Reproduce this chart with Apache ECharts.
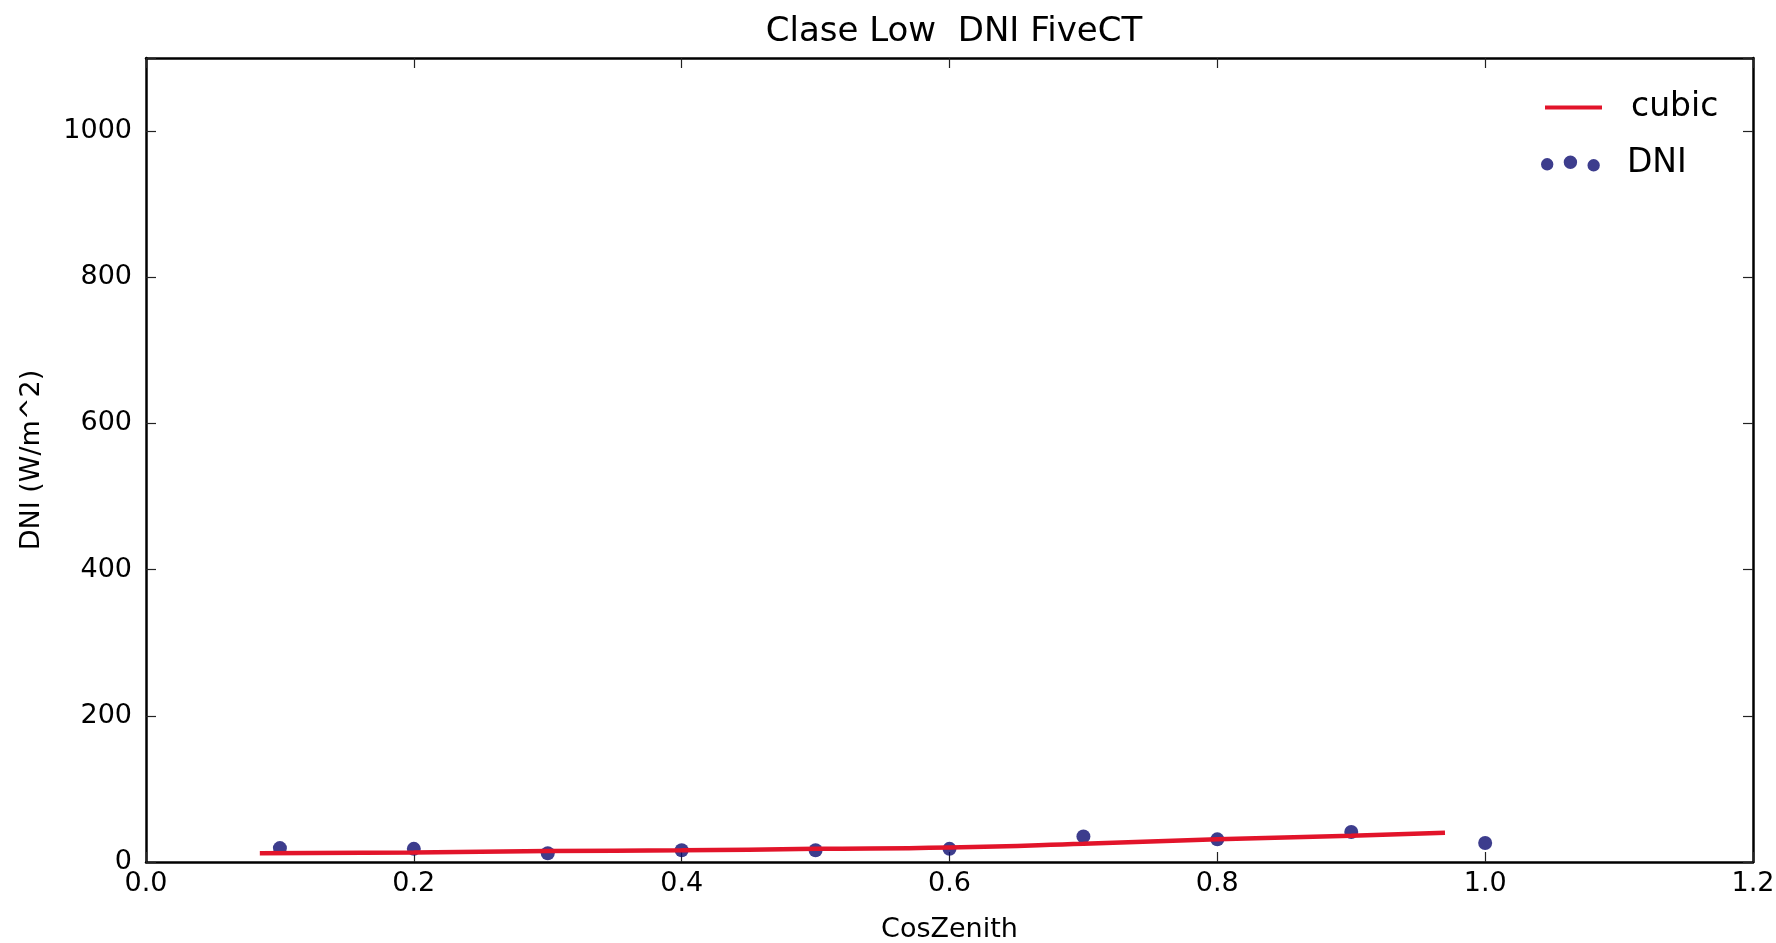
<!DOCTYPE html>
<html>
<head>
<meta charset="utf-8">
<script src="https://cdn.jsdelivr.net/npm/echarts@6/dist/echarts.min.js"></script>
<style>
html,body{margin:0;padding:0;background:#fff;}
#chart{width:1776px;height:943px;}
</style>
</head>
<body>
<div id="chart"></div>
<script>
const titleText = 'Clase Low  DNI FiveCT';
const xName = 'CosZenith';
const yName = 'DNI (W/m^2)';
const cosZenith = [0.1, 0.2, 0.3, 0.4, 0.5, 0.6, 0.7, 0.8, 0.9, 1.0];
const dniValues = [19, 18, 12, 16, 16, 18, 35, 31, 41, 26];
const cubicX = [0.085, 0.2, 0.3, 0.4, 0.5, 0.6, 0.7, 0.8, 0.9, 0.97];
const cubicY = [12, 13, 15, 16, 18, 20, 25, 31, 36, 40];
const xTicks = [0.0, 0.2, 0.4, 0.6, 0.8, 1.0, 1.2];
const yTicks = [0, 200, 400, 600, 800, 1000];

const FONT = 'DejaVu Sans';
const chart = echarts.init(document.getElementById('chart'), null, {renderer: 'canvas'});

const dotsIcon = 'path://M0,8 a6,6 0 1,0 12,0 a6,6 0 1,0 -12,0 Z M22,6 a6.5,6.5 0 1,0 13,0 a6.5,6.5 0 1,0 -13,0 Z M45,9 a6,6 0 1,0 12,0 a6,6 0 1,0 -12,0 Z';

const baseX = {
  type: 'value', min: 0, max: 1.2, interval: 0.2,
  axisLine: {show: true, onZero: false, lineStyle: {color: '#000', width: 2.5}},
  axisTick: {show: true, inside: true, length: 10, lineStyle: {color: '#222', width: 1.2}},
  splitLine: {show: false}
};
const baseY = {
  type: 'value', min: 0, max: 1100, interval: 200,
  axisLine: {show: true, onZero: false, lineStyle: {color: '#000', width: 2.5}},
  axisTick: {show: true, inside: true, length: 10, lineStyle: {color: '#222', width: 1.2}},
  splitLine: {show: false}
};

chart.setOption({
  backgroundColor: '#fff',
  animation: false,
  title: {
    text: titleText, left: 949, top: 10, textAlign: 'center',
    textStyle: {fontFamily: FONT, fontSize: 34, fontWeight: 'normal', color: '#000'}
  },
  legend: [
    {
      data: ['cubic'], left: 1540, top: 86, icon: 'rect',
      itemWidth: 57, itemHeight: 4,
      textStyle: {fontFamily: FONT, fontSize: 33, color: '#000', padding: [0, 0, 0, 24]}
    },
    {
      data: [{name: 'DNI', icon: dotsIcon}], left: 1536, top: 142,
      itemWidth: 67, itemHeight: 16,
      textStyle: {fontFamily: FONT, fontSize: 33, color: '#000', padding: [0, 0, 0, 18]}
    }
  ],
  grid: {left: 146, right: 23, top: 58, bottom: 81, containLabel: false, outerBoundsMode: 'none'},
  xAxis: [
    Object.assign({}, baseX, {
      position: 'bottom',
      name: xName, nameLocation: 'middle', nameGap: 54,
      nameTextStyle: {fontFamily: FONT, fontSize: 27, color: '#000'},
      axisLabel: {show: true, margin: 8, fontFamily: FONT, fontSize: 27, color: '#000',
        formatter: v => xTicks.some(t => Math.abs(t - v) < 1e-9) ? v.toFixed(1) : ''}
    }),
    Object.assign({}, baseX, {position: 'top', axisLabel: {show: false}})
  ],
  yAxis: [
    Object.assign({}, baseY, {
      position: 'left',
      name: yName, nameLocation: 'middle', nameGap: 101, nameRotate: 90,
      nameTextStyle: {fontFamily: FONT, fontSize: 27, color: '#000'},
      axisLabel: {show: true, margin: 14, fontFamily: FONT, fontSize: 27, color: '#000',
        formatter: v => yTicks.indexOf(v) >= 0 ? String(v) : ''}
    }),
    Object.assign({}, baseY, {position: 'right', axisLabel: {show: false}})
  ],
  series: [
    {
      name: 'DNI', type: 'scatter', xAxisIndex: 0, yAxisIndex: 0,
      data: cosZenith.map((x, i) => [x, dniValues[i]]),
      symbol: 'circle', symbolSize: 14,
      itemStyle: {color: '#0c0c70'}, z: 2
    },
    {
      name: 'cubic', type: 'line', xAxisIndex: 0, yAxisIndex: 0,
      data: cubicX.map((x, i) => [x, cubicY[i]]),
      showSymbol: false, symbol: 'none', smooth: true,
      lineStyle: {color: '#e2142a', width: 4.5}, itemStyle: {color: '#e2142a'}, z: 3
    }
  ]
});
</script>
</body>
</html>
